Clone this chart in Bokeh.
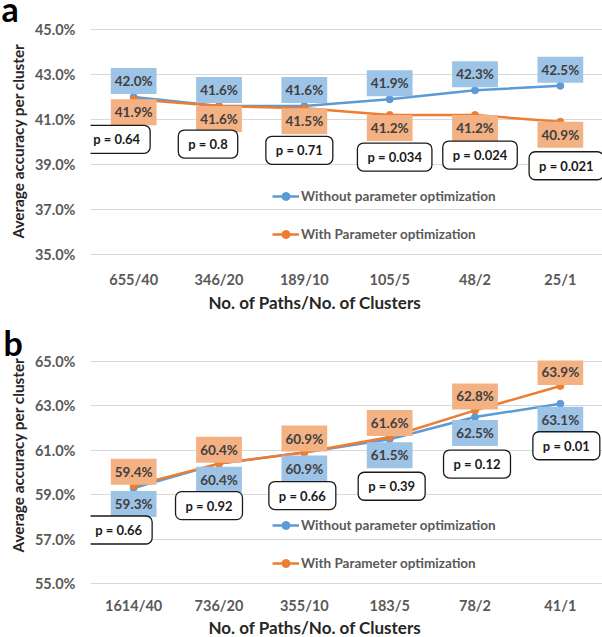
from bokeh.plotting import figure
from bokeh.models import (ColumnDataSource, Range1d, FixedTicker, PrintfTickFormatter,
                          Legend, LegendItem, Title)
from bokeh.layouts import column
from bokeh.core.properties import value
from bokeh.embed import file_html
from bokeh.resources import INLINE

# ---------------- data ----------------
cats_a = ["655/40", "346/20", "189/10", "105/5", "48/2", "25/1"]
without_a = [42.0, 41.6, 41.6, 41.9, 42.3, 42.5]
with_a = [41.9, 41.6, 41.5, 41.2, 41.2, 40.9]
pvals_a = ["p = 0.64", "p = 0.8", "p = 0.71", "p = 0.034", "p = 0.024", "p = 0.021"]
yticks_a = [35, 37, 39, 41, 43, 45]

cats_b = ["1614/40", "736/20", "355/10", "183/5", "78/2", "41/1"]
without_b = [59.3, 60.4, 60.9, 61.5, 62.5, 63.1]
with_b = [59.4, 60.4, 60.9, 61.6, 62.8, 63.9]
pvals_b = ["p = 0.66", "p = 0.92", "p = 0.66", "p = 0.39", "p = 0.12", "p = 0.01"]
yticks_b = [55, 57, 59, 61, 63, 65]

# ---------------- layout / style (screen px offsets for annotations) ----------------
pbox_dx_a = [-17, -11, -5, 5, 5, 6]
pbox_dy_a = [40, 38, 42, 42, 40, 44]
pbox_dx_b = [-15, -10, -2, 2, 2, 6]
pbox_dy_b = [42, 42, 43, 47, 47, 42]

BLUE = "#5B9BD5"
ORANGE = "#ED7D31"
BLUE_LBL = "#9DC3E6"
ORANGE_LBL = "#F4B183"
FONT = "Lato"


def make_panel(letter, letter_offset, letter_standoff, cats, blue, orange, pvals, yticks,
               pdx, pdy, blue_above, height, top, bottom, title_offset, margin,
               xlab_standoff, xtitle_standoff):
    n = len(cats)
    xs = list(range(n))
    lo, hi = yticks[0], yticks[-1]
    p = figure(width=602, height=height,
               x_range=Range1d(-0.5059, 5.494),
               y_range=Range1d(lo - 0.05, hi + 0.05),
               output_backend="svg", toolbar_location=None,
               min_border_left=90, min_border_right=0,
               min_border_top=top, min_border_bottom=bottom,
               outline_line_color=None, margin=margin)
    p.xgrid.visible = False
    p.ygrid.grid_line_color = "#D9D9D9"
    p.ygrid.grid_line_width = 1

    # axes
    p.yaxis.ticker = FixedTicker(ticks=yticks)
    p.yaxis.formatter = PrintfTickFormatter(format="%.1f%%")
    p.xaxis.ticker = FixedTicker(ticks=xs)
    p.xaxis.major_label_overrides = {i: c for i, c in enumerate(cats)}
    for ax in (p.xaxis, p.yaxis):
        ax.axis_line_color = None
        ax.major_tick_line_color = None
        ax.minor_tick_line_color = None
        ax.major_tick_out = 0
        ax.major_tick_in = 0
        ax.major_label_text_font = FONT
        ax.major_label_text_font_size = "14.5px"
        ax.major_label_text_font_style = "bold"
        ax.major_label_text_color = "#595959"
    p.yaxis.major_label_standoff = 15
    p.xaxis.major_label_standoff = xlab_standoff

    src = ColumnDataSource(dict(x=xs, blue=blue, orange=orange,
                                blue_t=[f"{v:.1f}%" for v in blue],
                                orange_t=[f"{v:.1f}%" for v in orange],
                                low=[min(a, b) for a, b in zip(blue, orange)],
                                ptxt=pvals, pdx=pdx, pdy=pdy))

    bl = p.line("x", "blue", source=src, line_color=BLUE, line_width=2.5)
    bs = p.scatter("x", "blue", source=src, size=7, fill_color=BLUE, line_color=BLUE)
    ol = p.line("x", "orange", source=src, line_color=ORANGE, line_width=2.5)
    os_ = p.scatter("x", "orange", source=src, size=7, fill_color=ORANGE, line_color=ORANGE)

    b_off = -16 if blue_above else 16
    o_off = 13 if blue_above else -14
    common = dict(text_font=value(FONT), text_font_size="13.5px", text_font_style="bold",
                  text_color="#404040", text_align="center", text_baseline="middle",
                  padding=(4, 5))
    p.text("x", "blue", text="blue_t", source=src, y_offset=b_off,
           background_fill_color=BLUE_LBL, **common)
    p.text("x", "orange", text="orange_t", source=src, y_offset=o_off,
           background_fill_color=ORANGE_LBL, **common)

    # p-value boxes
    p.text("x", "low", text="ptxt", source=src, x_offset="pdx", y_offset="pdy",
           text_font=value(FONT), text_font_size="13px", text_font_style="bold",
           text_color="#1a1a1a", text_align="center", text_baseline="middle",
           background_fill_color="white", border_line_color="#1a1a1a",
           border_line_width=1.3, border_radius=6, padding=(10, 6))

    legend = Legend(items=[LegendItem(label="Without parameter optimization", renderers=[bl, bs]),
                           LegendItem(label="With Parameter optimization", renderers=[ol, os_])],
                    location=(182, 11), orientation="vertical",
                    background_fill_alpha=0, border_line_alpha=0, padding=0, margin=0,
                    spacing=18, glyph_width=27, glyph_height=20, label_height=20,
                    label_standoff=2, label_text_font=FONT, label_text_font_size="13.5px",
                    label_text_font_style="bold", label_text_color="#595959")
    p.add_layout(legend)

    p.add_layout(Title(text=letter, align="left", offset=letter_offset,
                       text_font=FONT, text_font_size="34px", text_font_style="bold",
                       text_color="black", standoff=letter_standoff), "above")
    p.add_layout(Title(text="No. of Paths/No. of Clusters", align="left", offset=118,
                       text_font=FONT, text_font_size="17px", text_font_style="bold",
                       text_color="#262626", standoff=xtitle_standoff), "below")
    p.add_layout(Title(text="Average accuracy per cluster", align="right", offset=title_offset,
                       text_font=FONT, text_font_size="15.3px", text_font_style="bold",
                       text_color="#262626", standoff=10), "left")
    return p


pa = make_panel("a", -89, 0, cats_a, without_a, with_a, pvals_a, yticks_a, pbox_dx_a, pbox_dy_a,
                True, 330, 46, 57, 15, (-18, 0, 0, 0), 15, -2)
pb = make_panel("b", -87, -4, cats_b, without_b, with_b, pvals_b, yticks_b, pbox_dx_b, pbox_dy_b,
                False, 325, 48, 53, -3, (0, 0, 0, 0), 12, -4)

layout = column(pa, pb)
open("out.html", "w").write(file_html(layout, INLINE))
